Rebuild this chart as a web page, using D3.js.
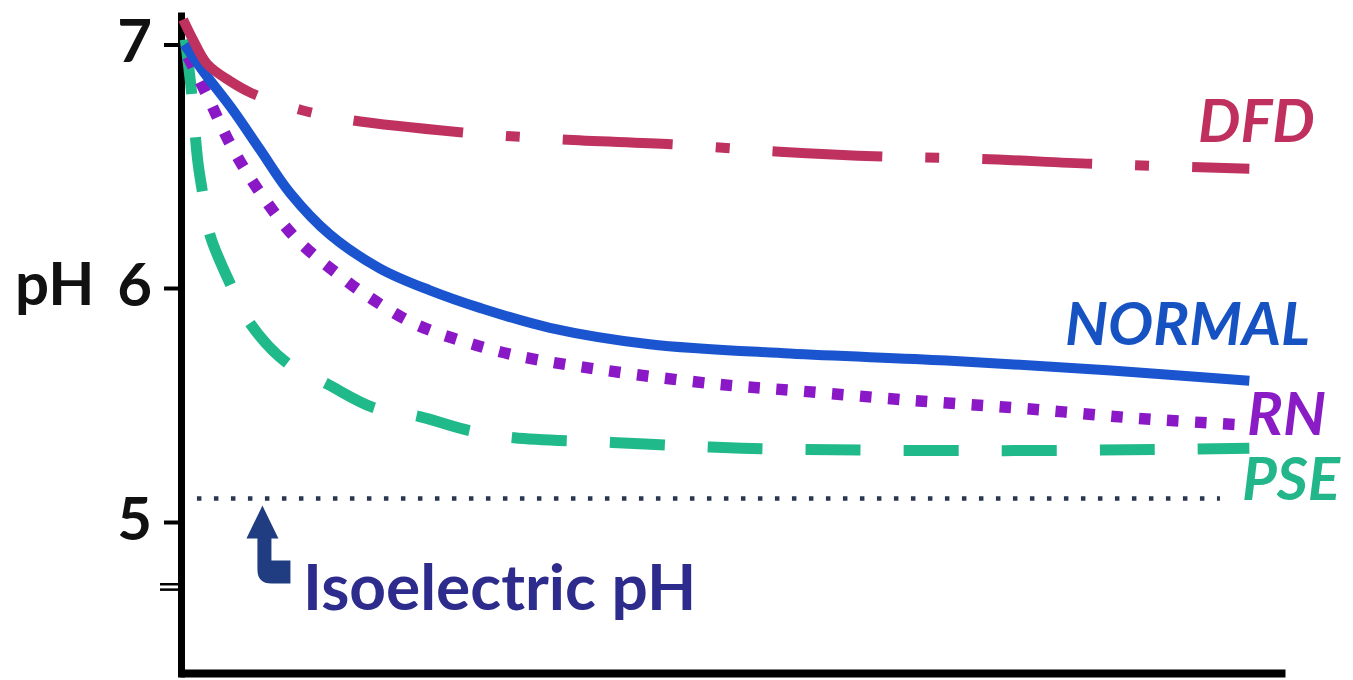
<!DOCTYPE html>
<html>
<head>
<meta charset="utf-8">
<script src="https://cdn.jsdelivr.net/npm/d3@7"></script>
<style>
  html, body { margin: 0; padding: 0; background: #ffffff; }
  svg { display: block; }
  text { font-family: "Lato", "Open Sans", sans-serif; }
</style>
</head>
<body>
<script>
// Post-mortem pH decline of muscle (time in hours, pH)
const yTicks = [5, 6, 7];
const isoelectricPH = 5.1;

const normalSeries = [[0.1, 7.0], [0.52, 6.89], [1.19, 6.73], [1.79, 6.57], [2.47, 6.39], [3.36, 6.22],
  [4.49, 6.08], [5.61, 5.99], [6.73, 5.915], [8.3, 5.83], [10.54, 5.76], [13.68, 5.72],
  [17.2, 5.69], [20.9, 5.647], [24, 5.604]];

const rnSeries = [[0.18, 6.95], [0.61, 6.79], [1.19, 6.57], [1.84, 6.38], [2.62, 6.2], [3.59, 6.05],
  [4.1, 5.98], [5.23, 5.85], [6.39, 5.77], [7.58, 5.71], [9.47, 5.65], [12, 5.59],
  [13.9, 5.56], [16.4, 5.52], [18.95, 5.485], [21.5, 5.443], [24, 5.413]];

const pseSeries = [[0.12, 7.02], [0.25, 6.82], [0.4, 6.52], [0.49, 6.41], [0.67, 6.22], [1.12, 6.02],
  [1.57, 5.85], [2.4, 5.68], [3.3, 5.59], [4.33, 5.49], [5.38, 5.45], [6.5, 5.39],
  [7.5, 5.36], [9.7, 5.34], [11.9, 5.32], [14, 5.31], [18.5, 5.305], [22, 5.31], [24, 5.315]];

const dfdSeries = [[0.07, 7.10], [0.29, 7.02], [0.61, 6.92], [1.12, 6.85], [1.61, 6.80], [2.74, 6.73],
  [3.81, 6.69], [6.28, 6.64], [8.57, 6.61], [11.04, 6.59], [13.46, 6.56], [15.77, 6.54],
  [18.01, 6.53], [20.48, 6.51], [24, 6.49]];

const isoSpan = [0.38, 23.34];
const breakMarks = [4.735, 4.712];

const W = 1353, H = 680;
const svg = d3.select("body").append("svg").attr("width", W).attr("height", H);

const x = d3.scaleLinear().domain([0, 24.8]).range([180, 1285]);
const y = d3.scaleLinear().domain([4.34, 5, 6, 7, 7.13]).range([677, 522, 288, 44.5, 12]);

// Axes
const gx = svg.append("g").attr("transform", "translate(0,673)")
  .call(d3.axisBottom(x).tickValues([]).tickSizeOuter(0));
gx.select(".domain").attr("stroke", "#000").attr("stroke-width", 8);

const gy = svg.append("g").attr("transform", "translate(181,0)")
  .call(d3.axisLeft(y).tickValues(yTicks).tickSize(17).tickSizeOuter(0).tickPadding(12)
    .tickFormat(d3.format("d")));
gy.select(".domain").attr("stroke", "#000").attr("stroke-width", 7);
gy.selectAll(".tick line").attr("stroke", "#000").attr("stroke-width", 4);
gy.selectAll(".tick text")
  .attr("fill", "#111").attr("font-size", 60).attr("font-weight", 700)
  .attr("font-family", "Lato, 'Open Sans', sans-serif")
  .attr("dy", "0.29em");

// axis break mark
svg.selectAll("line.brk").data(breakMarks).join("line").attr("class", "brk")
  .attr("x1", 160).attr("x2", 179)
  .attr("y1", d => y(d)).attr("y2", d => y(d))
  .attr("stroke", "#000").attr("stroke-width", 2.5);

svg.append("text").attr("x", 15).attr("y", y(6) + 17)
  .attr("font-size", 60).attr("font-weight", 700).attr("fill", "#111").text("pH");

// Curves
const line = d3.line().x(d => x(d[0])).y(d => y(d[1])).curve(d3.curveCatmullRom.alpha(0.5));

// isoelectric reference line
svg.append("path")
  .attr("d", line([[isoSpan[0], isoelectricPH], [isoSpan[1], isoelectricPH]]))
  .attr("fill", "none").attr("stroke", "#2b3650").attr("stroke-width", 4.5)
  .attr("stroke-dasharray", "4.5,12.5");

svg.append("path").attr("d", line(pseSeries))
  .attr("fill", "none").attr("stroke", "#1fb98a").attr("stroke-width", 11)
  .attr("stroke-dasharray", "55,43");

svg.append("path").attr("d", line(rnSeries))
  .attr("fill", "none").attr("stroke", "#8a18c6").attr("stroke-width", 11.5)
  .attr("stroke-dasharray", "11.5,16.5");

svg.append("path").attr("d", line(normalSeries))
  .attr("fill", "none").attr("stroke", "#1a55cf").attr("stroke-width", 10);

svg.append("path").attr("d", line(dfdSeries))
  .attr("fill", "none").attr("stroke", "#bf325f").attr("stroke-width", 10)
  .attr("stroke-dasharray", "110,43,14,43");

// Series labels
const labelFont = sel => sel.attr("font-size", 60).attr("font-weight", 700).attr("font-style", "italic");
svg.append("text").attr("x", 1198).attr("y", 142).attr("fill", "#c0305e").call(labelFont).text("DFD");
svg.append("text").attr("x", 1065).attr("y", 345).attr("fill", "#1652c2").call(labelFont).text("NORMAL");
svg.append("text").attr("x", 1247).attr("y", 435).attr("fill", "#8a1cc6").call(labelFont).text("RN");
svg.append("text").attr("x", 1242).attr("y", 500).attr("fill", "#22b68a").call(labelFont).text("PSE");

// Isoelectric annotation: bent arrow pointing at the reference line
const ax = x(1.85), ay = y(isoelectricPH) + 7;
const arrow = d3.path();
arrow.moveTo(ax, ay);
arrow.lineTo(ax + 16, ay + 33);
arrow.lineTo(ax + 9, ay + 33);
arrow.lineTo(ax + 9, ay + 55);
arrow.lineTo(ax + 28, ay + 55);
arrow.lineTo(ax + 28, ay + 78);
arrow.lineTo(ax + 9, ay + 78);
arrow.quadraticCurveTo(ax - 5, ay + 78, ax - 5, ay + 64);
arrow.lineTo(ax - 5, ay + 33);
arrow.lineTo(ax - 16, ay + 33);
arrow.closePath();
svg.append("path").attr("d", arrow.toString()).attr("fill", "#1f3d80");

svg.append("text").attr("x", 303).attr("y", 610)
  .attr("font-size", 64).attr("font-weight", 700).attr("fill", "#2d2b8c")
  .text("Isoelectric pH");
</script>
</body>
</html>
